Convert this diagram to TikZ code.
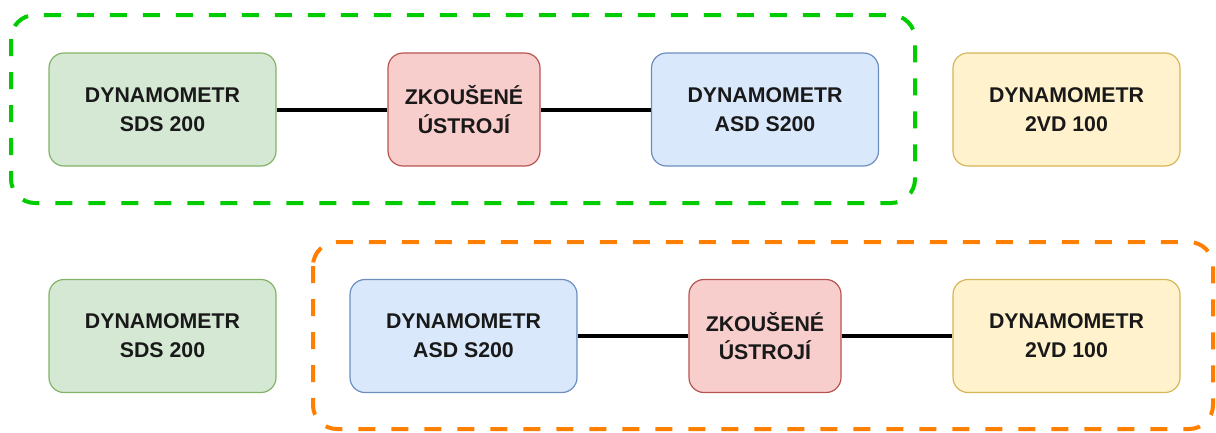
\documentclass[tikz,border=0pt]{standalone}
\usepackage{fontspec}
\setmainfont{Liberation Sans}
\definecolor{gfill}{HTML}{D5E8D4}\definecolor{gline}{HTML}{82B366}
\definecolor{rfill}{HTML}{F8CECC}\definecolor{rline}{HTML}{B85450}
\definecolor{bfill}{HTML}{DAE8FC}\definecolor{bline}{HTML}{6C8EBF}
\definecolor{yfill}{HTML}{FFF2CC}\definecolor{yline}{HTML}{D6B656}
\definecolor{grpgreen}{HTML}{00CC00}
\definecolor{grporange}{HTML}{FF8000}
\begin{document}
\begin{tikzpicture}[x=1pt,y=-1pt,
  unit/.style={draw, line width=1.2pt, rounded corners=15pt, minimum height=113pt,
    align=center, inner sep=0pt, font=\fontsize{21.3}{28.7}\selectfont\bfseries, text=black!90},
  wide/.style={unit, minimum width=227pt},
  narrow/.style={unit, minimum width=152pt},
  sds/.style={wide, fill=gfill, draw=gline},
  asd/.style={wide, fill=bfill, draw=bline},
  vd/.style={wide, fill=yfill, draw=yline},
  dut/.style={narrow, fill=rfill, draw=rline},
  shaft/.style={line width=4pt, black},
  group/.style={line width=4pt, dash pattern=on 17pt off 16pt, rounded corners=24pt}]
\useasboundingbox (0,0) rectangle (1216,432);

% first configuration
\node[sds] (s1) at (162.5,109.5) {DYNAMOMETR\\SDS 200};
\node[dut] (d1) at (464,109.5) {ZKOUŠENÉ\\ÚSTROJÍ};
\node[asd] (a1) at (765,109.5) {DYNAMOMETR\\ASD S200};
\node[vd]  (v1) at (1066.5,109.5) {DYNAMOMETR\\2VD 100};
\draw[shaft] (s1) -- (d1);
\draw[shaft] (d1) -- (a1);
\draw[group, grpgreen] (11,15) rectangle (915,203);

% second configuration
\node[sds] (s2) at (162.5,336) {DYNAMOMETR\\SDS 200};
\node[asd] (a2) at (463.5,336) {DYNAMOMETR\\ASD S200};
\node[dut] (d2) at (765,336) {ZKOUŠENÉ\\ÚSTROJÍ};
\node[vd]  (v2) at (1066.5,336) {DYNAMOMETR\\2VD 100};
\draw[shaft] (a2) -- (d2);
\draw[shaft] (d2) -- (v2);
\draw[group, grporange] (313,242) rectangle (1213,429);
\end{tikzpicture}
\end{document}
